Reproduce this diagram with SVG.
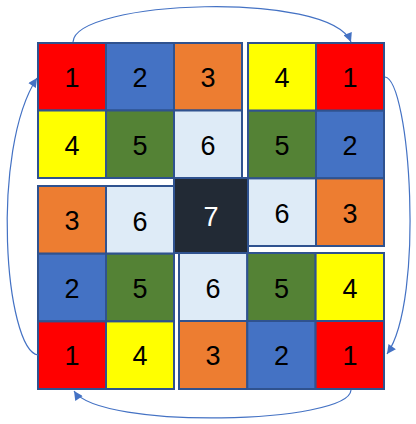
<svg xmlns="http://www.w3.org/2000/svg" width="416" height="424" viewBox="0 0 416 424">
<defs>
<style>
.c rect{stroke:#2F528F;stroke-width:2}
.c text{font-family:"Liberation Sans",Arial,sans-serif;font-size:27px;text-anchor:middle;fill:#000}
.r{fill:#FF0000}.b{fill:#4472C4}.o{fill:#ED7D31}.y{fill:#FFFF00}.g{fill:#548235}.l{fill:#DEEBF7}.d{fill:#222A35}
.conn path{fill:none;stroke:#4472C4;stroke-width:1.2;marker-end:url(#ah)}
</style>
<marker id="ah" viewBox="0 0 10 10" refX="10" refY="5" markerUnits="userSpaceOnUse" markerWidth="11" markerHeight="9" orient="auto">
<path d="M0,0 L10,5 L0,10 z" fill="#4472C4"/>
</marker>
</defs>
<rect width="416" height="424" fill="#fff"/>
<g id="top-left" class="c">
<g id="tl-1"><rect class="r" x="38" y="43" width="68" height="67.5"/><text x="72" y="87">1</text></g>
<g id="tl-2"><rect class="b" x="106" y="43" width="68" height="67.5"/><text x="140" y="87">2</text></g>
<g id="tl-3"><rect class="o" x="174" y="43" width="68" height="67.5"/><text x="208" y="87">3</text></g>
<g id="tl-4"><rect class="y" x="38" y="110.5" width="68" height="67.5"/><text x="72" y="155">4</text></g>
<g id="tl-5"><rect class="g" x="106" y="110.5" width="68" height="67.5"/><text x="140" y="155">5</text></g>
<g id="tl-6"><rect class="l" x="174" y="110.5" width="68" height="67.5"/><text x="208" y="155">6</text></g>
</g>
<g id="top-right" class="c">
<g id="tr-4"><rect class="y" x="248" y="43" width="68" height="67.7"/><text x="282" y="87">4</text></g>
<g id="tr-1"><rect class="r" x="316" y="43" width="68" height="67.7"/><text x="350" y="87">1</text></g>
<g id="tr-5"><rect class="g" x="248" y="110.7" width="68" height="67.7"/><text x="282" y="155">5</text></g>
<g id="tr-2"><rect class="b" x="316" y="110.7" width="68" height="67.7"/><text x="350" y="155">2</text></g>
<g id="tr-6"><rect class="l" x="248" y="178.4" width="68" height="67.6"/><text x="282" y="223">6</text></g>
<g id="tr-3"><rect class="o" x="316" y="178.4" width="68" height="67.6"/><text x="350" y="223">3</text></g>
</g>
<g id="bottom-left" class="c">
<g id="bl-3"><rect class="o" x="38" y="186" width="68" height="67.7"/><text x="72" y="230">3</text></g>
<g id="bl-6"><rect class="l" x="106" y="186" width="68" height="67.7"/><text x="140" y="231">6</text></g>
<g id="bl-2"><rect class="b" x="38" y="253.7" width="68" height="67.7"/><text x="72" y="298">2</text></g>
<g id="bl-5"><rect class="g" x="106" y="253.7" width="68" height="67.7"/><text x="140" y="298">5</text></g>
<g id="bl-1"><rect class="r" x="38" y="321.4" width="68" height="67.6"/><text x="72" y="365">1</text></g>
<g id="bl-4"><rect class="y" x="106" y="321.4" width="68" height="67.6"/><text x="140" y="365">4</text></g>
</g>
<g id="bottom-right" class="c">
<g id="br-6"><rect class="l" x="179" y="253" width="68.3" height="68"/><text x="213" y="298">6</text></g>
<g id="br-5"><rect class="g" x="247.3" y="253" width="68.3" height="68"/><text x="281.5" y="298">5</text></g>
<g id="br-4"><rect class="y" x="315.6" y="253" width="68.4" height="68"/><text x="350" y="298">4</text></g>
<g id="br-3"><rect class="o" x="179" y="321" width="68.3" height="68"/><text x="213" y="365">3</text></g>
<g id="br-2"><rect class="b" x="247.3" y="321" width="68.3" height="68"/><text x="281.5" y="365">2</text></g>
<g id="br-1"><rect class="r" x="315.6" y="321" width="68.4" height="68"/><text x="350" y="365">1</text></g>
</g>
<g id="center" class="c">
<rect class="d" x="174" y="178" width="74" height="75"/><text x="211" y="226" style="fill:#fff">7</text>
</g>
<g id="connectors" class="conn">
<path d="M73,42 C75,0 330,-10 351,42"/>
<path d="M385,77 C410,80 425,300 387,354"/>
<path d="M351,390 C349,424 100,430 74,391"/>
<path d="M38,355 C5,350 -10,150 37,78"/>
</g>
</svg>
